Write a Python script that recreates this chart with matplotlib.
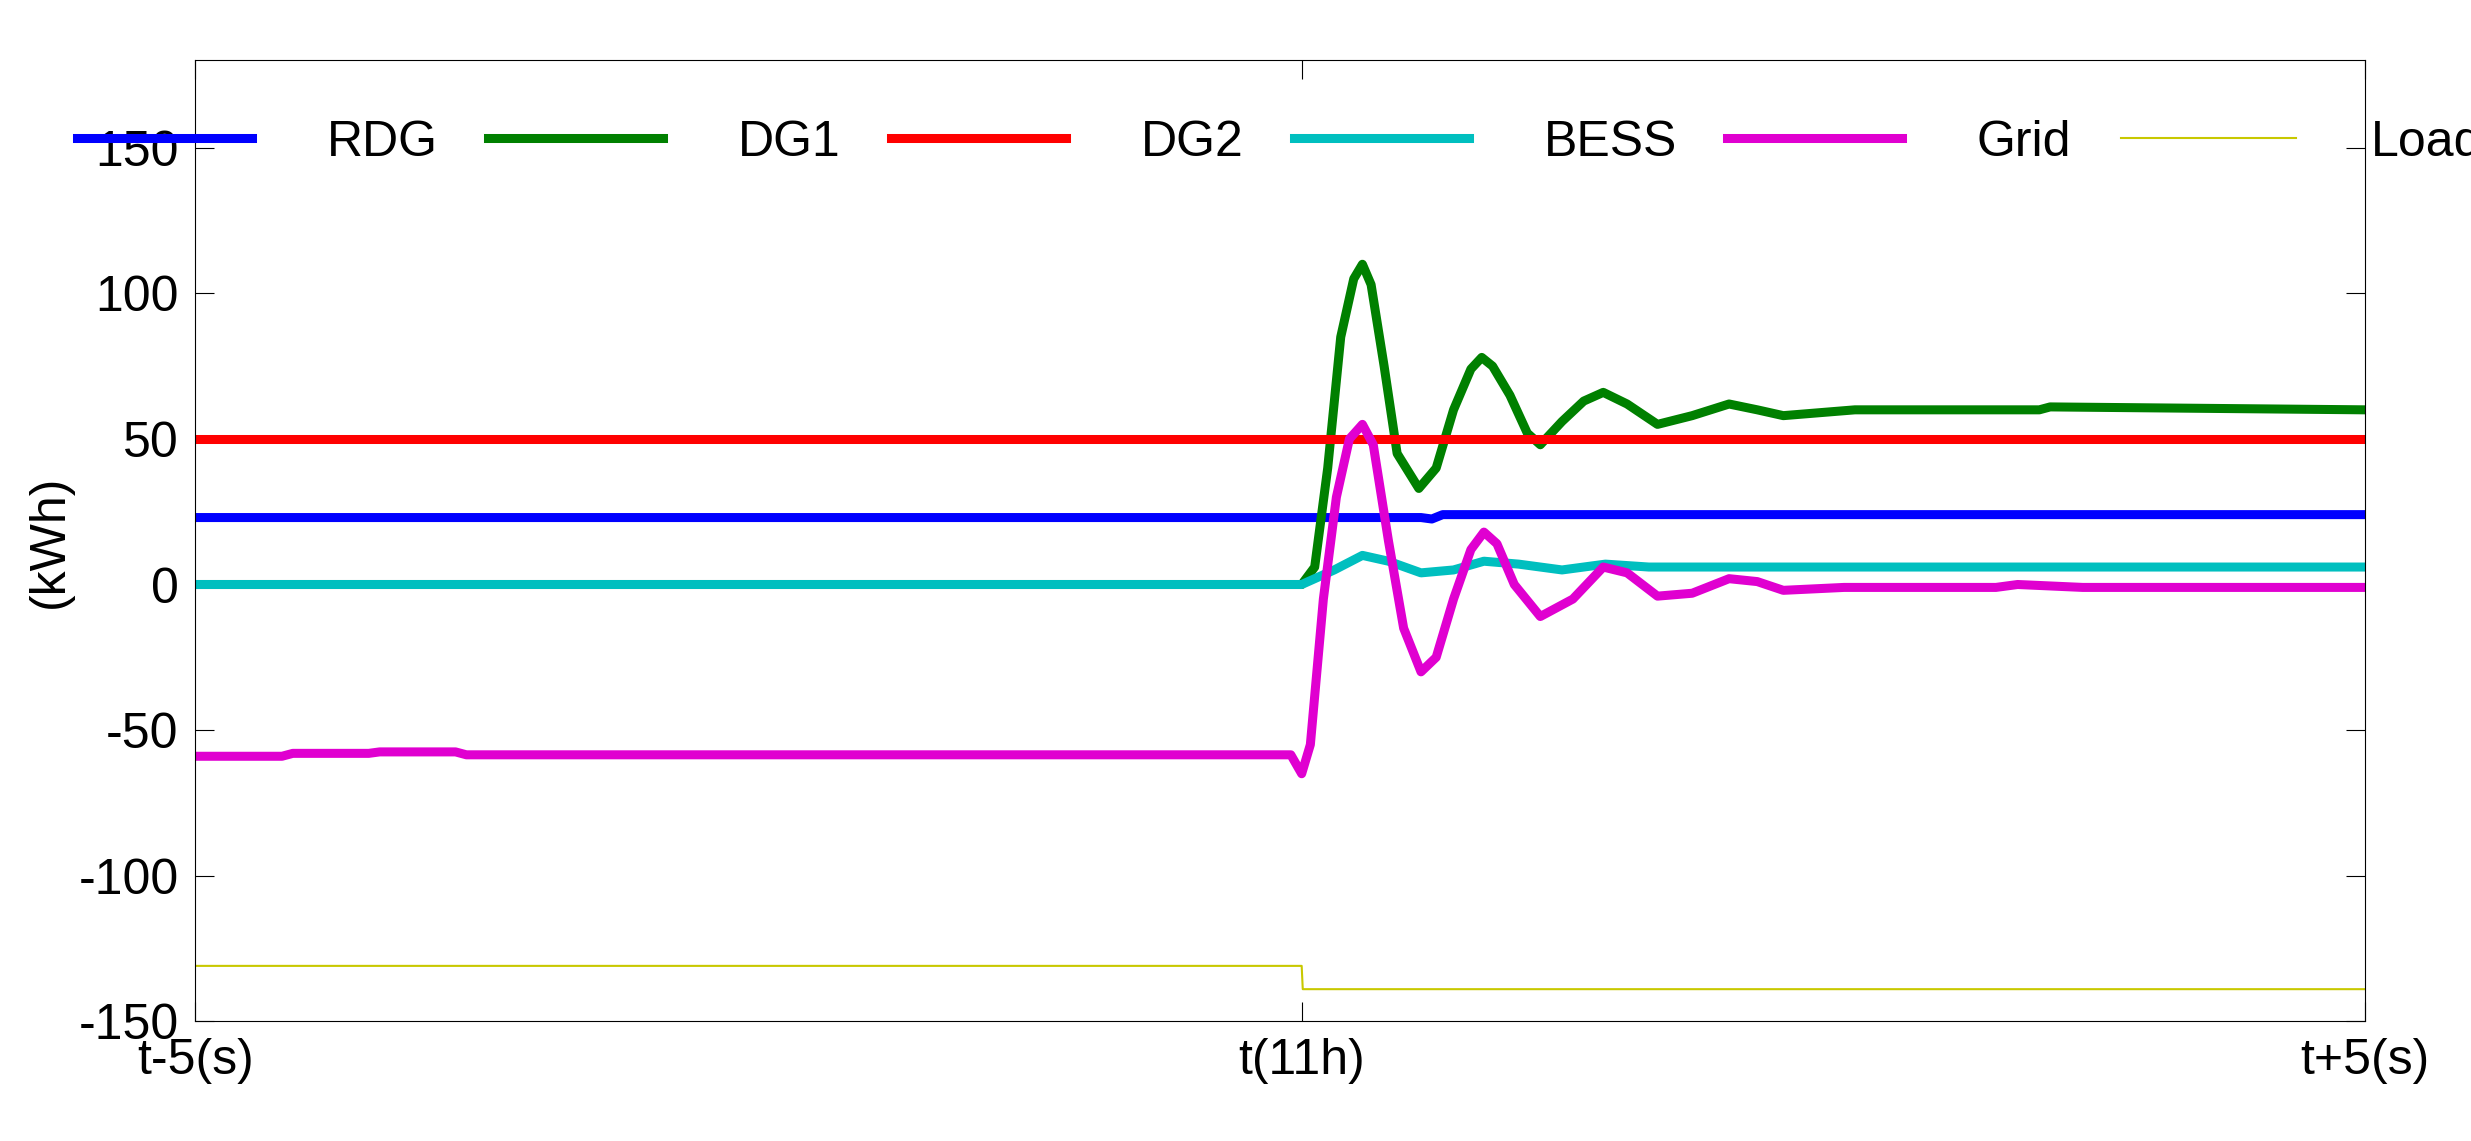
import numpy as np
import matplotlib.pyplot as plt

plt.rcParams['font.family'] = ['Liberation Sans', 'DejaVu Sans']
plt.rcParams['axes.unicode_minus'] = False

# time axis in seconds relative to t(11h)
t_rdg = [-5.1, 0.55, 0.6, 0.65, 4.9]
rdg = [23, 23, 22.5, 24, 24]

t_dg1 = [-5.1, 0, 0.06, 0.12, 0.18, 0.24, 0.28, 0.32, 0.38, 0.44, 0.54, 0.62, 0.7, 0.78, 0.83,
         0.88, 0.96, 1.04, 1.10, 1.2, 1.3, 1.39, 1.5, 1.64, 1.8, 1.97, 2.1, 2.22, 2.55,
         3.4, 3.45, 4.9]
dg1 = [0, 0, 6, 40, 85, 105, 110, 103, 75, 45, 33, 40, 60, 74, 78,
       75, 65, 52, 48, 56, 63, 66, 62, 55, 58, 62, 60, 58, 60,
       60, 61, 60]

t_dg2 = [-5.1, 4.9]
dg2 = [50, 50]

t_bess = [-5.1, 0, 0.15, 0.28, 0.4, 0.55, 0.7, 0.84, 1.0, 1.2, 1.4, 1.6, 4.9]
bess = [0, 0, 5, 10, 8, 4, 5, 8, 7, 5, 7, 6, 6]

t_grid = [-5.1, -4.7, -4.65, -4.3, -4.25, -3.9, -3.85, -0.05, 0, 0.04, 0.1, 0.16, 0.22, 0.28,
          0.33, 0.4, 0.47, 0.55, 0.62, 0.7, 0.78, 0.84, 0.9, 0.98, 1.1, 1.25, 1.39, 1.5, 1.64,
          1.8, 1.97, 2.1, 2.22, 2.5, 3.2, 3.3, 3.6, 4.9]
grid = [-59, -59, -58, -58, -57.5, -57.5, -58.5, -58.5, -65, -55, -5, 30, 50, 55,
        48, 15, -15, -30, -25, -5, 12, 18, 14, 0, -11, -5, 6, 4, -4,
        -3, 2, 1, -2, -1, -1, 0, -1, -1]

t_load = [-5.1, 0, 0.005, 4.9]
load = [-131, -131, -139, -139]

fig, ax = plt.subplots(figsize=(24.71, 11.41), dpi=100)
lw = 6.5
ax.plot(t_rdg, rdg, color='#0000ff', lw=lw, label='RDG')
ax.plot(t_dg1, dg1, color='#008000', lw=lw, label='DG1')
ax.plot(t_dg2, dg2, color='#ff0000', lw=lw, label='DG2')
ax.plot(t_bess, bess, color='#00bfbf', lw=lw, label='BESS')
ax.plot(t_grid, grid, color='#e000d0', lw=lw, label='Grid')
ax.plot(t_load, load, color='#c8c800', lw=1.5, label='Load')

ax.set_xlim(-5.1, 4.9)
ax.set_ylim(-150, 180)
ax.set_xticks([-5.1, 0, 4.9])
ax.set_xticklabels(['t-5(s)', 't(11h)', 't+5(s)'])
ax.set_yticks([-150, -100, -50, 0, 50, 100, 150])
ax.set_ylabel('(kWh)', fontsize=36)
ax.tick_params(labelsize=36, direction='in', length=14, top=True, right=True, pad=12)

ax.legend(loc='upper center', ncol=6, frameon=False, fontsize=36,
          handlelength=3.5, handletextpad=1.5, columnspacing=1.0,
          bbox_to_anchor=(0.5, 0.985))

fig.subplots_adjust(left=0.079, right=0.957, top=0.947, bottom=0.105)
fig.savefig('out.png', dpi=100)
